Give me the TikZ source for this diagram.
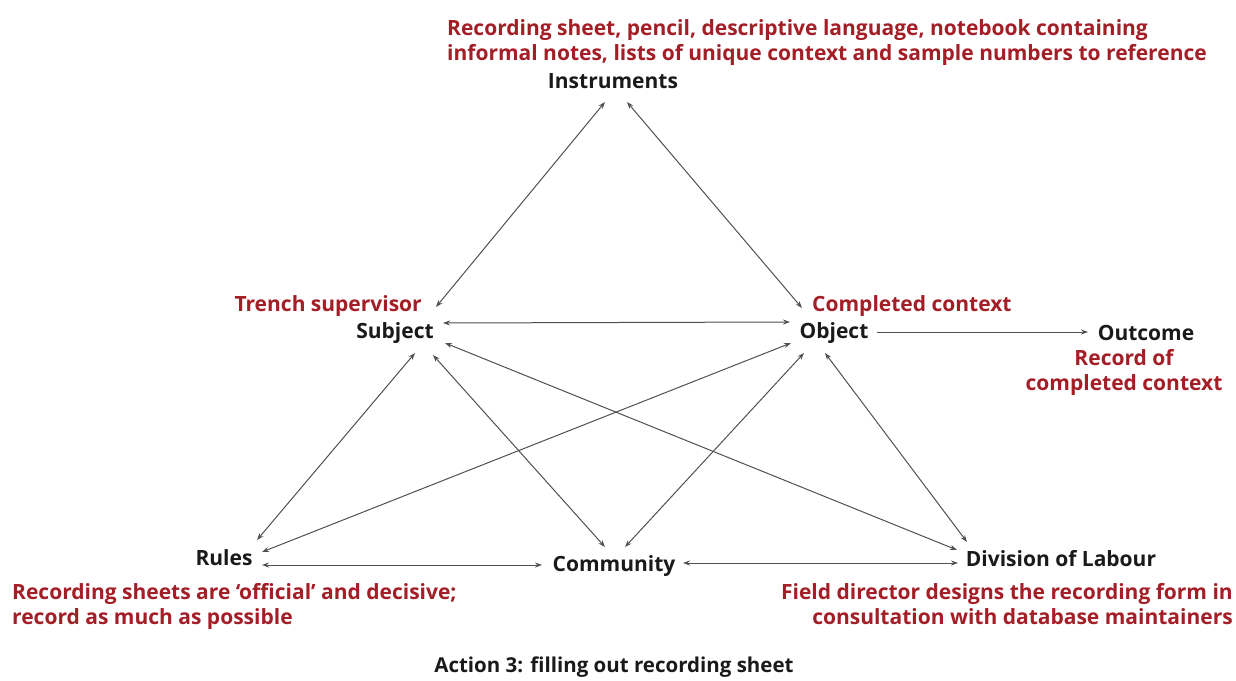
\documentclass[tikz,border=0pt]{standalone}
\usepackage{fontspec}
\setmainfont{Open Sans}
\usepackage{tikz}
\usetikzlibrary{arrows.meta,calc}
\definecolor{notered}{RGB}{163,30,38}
\definecolor{termblack}{RGB}{26,26,26}
\definecolor{linkgray}{RGB}{80,80,80}

\begin{document}
\begin{tikzpicture}[
  x=1pt, y=-1pt,
  font=\fontsize{21}{25}\selectfont\bfseries,
  term/.style={inner sep=0pt, text=termblack},
  note/.style={inner sep=0pt, text=notered},
  link/.style={draw=linkgray, line width=1pt, {Stealth[length=7pt,width=5pt]}-{Stealth[length=7pt,width=5pt]}},
  fwd/.style={draw=linkgray, line width=1pt, -{Stealth[length=7pt,width=5pt]}}
]
\useasboundingbox (0,0) rectangle (1236,680);
\node[term] (inst) at (613,81) {Instruments};
\node[term] (subj) at (395,333) {Subject};
\node[term] (obj) at (834,333) {Object};
\node[term] (outc) at (1146,333) {Outcome};
\node[term] (rules) at (224,558) {Rules};
\node[term] (comm) at (614,566) {Community};
\node[term] (div) at (1061,559) {Division of Labour};

\node[note, align=left, anchor=west] (instnote) at (447,43) {Recording sheet, pencil, descriptive language, notebook containing\\informal notes, lists of unique context and sample numbers to reference};
\node[note, anchor=east] (subjnote) at (422,306) {Trench supervisor};
\node[note, anchor=west] (objnote) at (812,306) {Completed context};
\node[note, align=center] (outcnote) at (1124,372) {Record of\\completed context};
\node[note, align=left, anchor=west] (rulesnote) at (12,606) {Recording sheets are `official' and decisive;\\record as much as possible};
\node[note, align=right, anchor=east] (divnote) at (1233,604) {Field director designs the recording form in\\consultation with database maintainers};
\node[term, font=\fontsize{20.5}{24}\selectfont\bfseries] (caption) at (614,667) {Action 3: filling out recording sheet};

\draw[link] ($(inst)+(-8,21)$) -- ($(subj)+(41,-26)$);
\draw[link] ($(inst)+(14,21)$) -- ($(obj)+(-32,-25)$);
\draw[link] ($(subj)+(48,-10)$) -- ($(obj)+(-44,-11)$);
\draw[fwd] ($(obj)+(43,-1)$) -- ($(outc)+(-58,-1)$);
\draw[link] ($(subj)+(20,20)$) -- ($(rules)+(33,-18)$);
\draw[link] ($(subj)+(38,22)$) -- ($(comm)+(-9,-19)$);
\draw[link] ($(subj)+(50,10)$) -- ($(div)+(-104,-9)$);
\draw[link] ($(obj)+(-43,10)$) -- ($(rules)+(38,-6)$);
\draw[link] ($(obj)+(-30,20)$) -- ($(comm)+(11,-19)$);
\draw[link] ($(obj)+(-9,20)$) -- ($(div)+(-94,-17)$);
\draw[link] ($(rules)+(38,7)$) -- ($(comm)+(-72,-1)$);
\draw[link] ($(comm)+(69,-3)$) -- ($(div)+(-103,4)$);
\end{tikzpicture}
\end{document}
